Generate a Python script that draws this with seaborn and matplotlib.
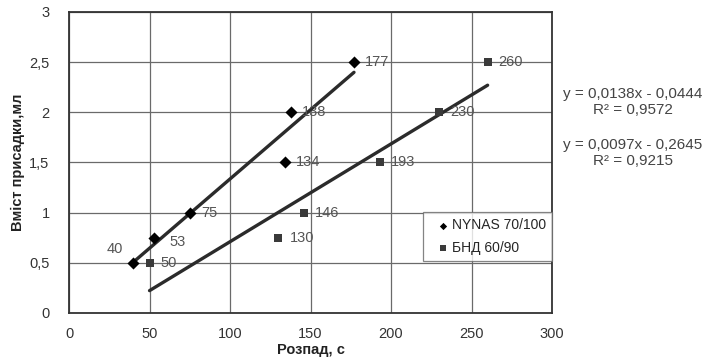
import numpy as np
import pandas as pd
import seaborn as sns
import matplotlib
matplotlib.use("Agg")
import matplotlib.pyplot as plt
from matplotlib.ticker import FuncFormatter

nynas_x = [40, 53, 75, 134, 138, 177]
nynas_y = [0.5, 0.75, 1.0, 1.5, 2.0, 2.5]
bnd_x = [50, 130, 146, 193, 230, 260]
bnd_y = [0.5, 0.75, 1.0, 1.5, 2.0, 2.5]
series_names = ["NYNAS 70/100", "БНД 60/90"]
eq_texts = ["y = 0,0138x - 0,0444\nR² = 0,9572", "y = 0,0097x - 0,2645\nR² = 0,9215"]
x_ticks = [0, 50, 100, 150, 200, 250, 300]
y_ticks = [0, 0.5, 1, 1.5, 2, 2.5, 3]

sns.set_theme(style="white")
plt.rcParams["font.family"] = ["Liberation Sans", "DejaVu Sans"]

fig = plt.figure(figsize=(7.08, 3.58), dpi=100)
ax = fig.add_axes([0.0975, 0.1257, 0.6822, 0.8408])

df1 = pd.DataFrame({"x": nynas_x, "y": nynas_y})
df2 = pd.DataFrame({"x": bnd_x, "y": bnd_y})

line_col = "#2b2b2b"
sns.regplot(data=df1, x="x", y="y", ax=ax, ci=None, truncate=True, scatter=False,
            line_kws=dict(color=line_col, lw=2.4, zorder=3))
sns.regplot(data=df2, x="x", y="y", ax=ax, ci=None, truncate=True, scatter=False,
            line_kws=dict(color=line_col, lw=2.4, zorder=3))
sns.scatterplot(data=df1, x="x", y="y", ax=ax, marker="D", s=38, color="black",
                edgecolor="black", linewidth=0, zorder=4, label=series_names[0])
sns.scatterplot(data=df2, x="x", y="y", ax=ax, marker="s", s=38, color="#3a3a3a",
                edgecolor="#3a3a3a", linewidth=0, zorder=4, label=series_names[1])

lab_col = "#555555"
fs = 10.5
for i, (x, y) in enumerate(zip(nynas_x, nynas_y)):
    if i == 0:
        off = (-19, 10)
    elif i == 1:
        off = (11, -3)
    else:
        off = (8, 0)
    ax.annotate(str(x), (x, y), xytext=off, textcoords="offset points",
                fontsize=fs, color=lab_col, va="center")
for x, y in zip(bnd_x, bnd_y):
    ax.annotate(str(x), (x, y), xytext=(8, 0), textcoords="offset points",
                fontsize=fs, color=lab_col, va="center")

ax.set_xlim(0, 300)
ax.set_ylim(0, 3)
ax.set_xticks(x_ticks)
ax.set_yticks(y_ticks)
ax.yaxis.set_major_formatter(FuncFormatter(lambda v, p: ("%g" % v).replace(".", ",")))
ax.tick_params(axis="both", labelsize=fs, colors="#333333", length=0)
ax.tick_params(axis="y", pad=14)
ax.tick_params(axis="x", pad=10)
ax.grid(True, color="#6a6a6a", lw=0.9)
ax.set_axisbelow(True)
for s in ax.spines.values():
    s.set_color("#333333")
    s.set_linewidth(1.3)
ax.set_xlabel("Розпад, с", fontsize=10.5, fontweight="bold", color="#222222", labelpad=1.5)
ax.set_ylabel("Вміст присадки,мл", fontsize=10.5, fontweight="bold", color="#222222", labelpad=3)

leg = ax.legend(loc="lower right", bbox_to_anchor=(1.0, 0.173), fontsize=10,
                frameon=True, fancybox=False, markerscale=0.6, handletextpad=-0.3,
                handlelength=1.9, borderpad=0.45, labelspacing=0.6, borderaxespad=0)
leg.get_frame().set_edgecolor("#666666")
leg.get_frame().set_linewidth(0.9)

fig.text(0.894, 0.715, eq_texts[0], ha="center", va="center", fontsize=11,
         color="#444444", linespacing=1.15)
fig.text(0.894, 0.573, eq_texts[1], ha="center", va="center", fontsize=11,
         color="#444444", linespacing=1.15)

fig.savefig("out.png", dpi=100)
